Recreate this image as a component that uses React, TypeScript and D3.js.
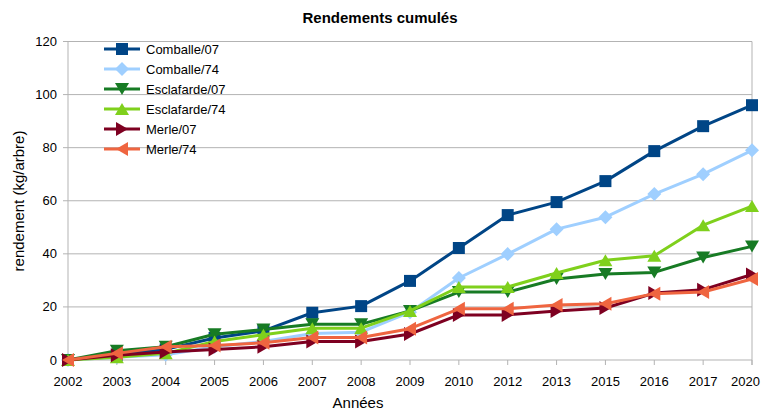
import React from 'react';
import * as d3 from 'd3';

const years = ['2002', '2003', '2004', '2005', '2006', '2007', '2008', '2009', '2010', '2012', '2013', '2015', '2016', '2017', '2020'];

const comballe07 = [0, 2, 4, 8.3, 11, 17.8, 20.3, 29.8, 42.2, 54.6, 59.5, 67.4, 78.7, 88.1, 96];
const comballe74 = [0, 1, 2, 5, 7, 10, 10.5, 18, 30.9, 39.9, 49.3, 53.8, 62.5, 70, 79];
const esclafarde07 = [0, 3.5, 5, 9.7, 11.5, 13.5, 13.5, 18.5, 25.6, 25.6, 30.5, 32.4, 33, 38.6, 42.8];
const esclafarde74 = [0, 1, 2.5, 7, 9.5, 12, 12, 18.5, 27.5, 27.5, 32.8, 37.6, 39.3, 50.8, 58];
const merle07 = [0, 1.8, 3, 4, 5, 7, 7, 9.8, 17, 17, 18.5, 19.6, 25.2, 26.5, 32.2];
const merle74 = [0, 2.5, 5, 5.5, 6.5, 8.5, 8.5, 11.8, 19.3, 19.3, 20.7, 21.2, 25, 25.6, 30.5];

const yTicks = [0, 20, 40, 60, 80, 100, 120];

const series = [
  { name: 'Comballe/07', values: comballe07, color: '#004586', marker: 'square' },
  { name: 'Comballe/74', values: comballe74, color: '#9fcfff', marker: 'diamond' },
  { name: 'Esclafarde/07', values: esclafarde07, color: '#177b24', marker: 'down' },
  { name: 'Esclafarde/74', values: esclafarde74, color: '#7fd01c', marker: 'up' },
  { name: 'Merle/07', values: merle07, color: '#7e0021', marker: 'right' },
  { name: 'Merle/74', values: merle74, color: '#ef6540', marker: 'left' },
];

const W = 761;
const H = 410;
const left = 68;
const right = 752;
const top = 41.5;
const bottom = 360;

function Marker({ kind, x, y, color }: { kind: string; x: number; y: number; color: string }) {
  const s = 6;
  let d = '';
  if (kind === 'square') d = `M${x - s},${y - s}h${2 * s}v${2 * s}h${-2 * s}Z`;
  else if (kind === 'diamond') d = `M${x},${y - s - 1}L${x + s + 1},${y}L${x},${y + s + 1}L${x - s - 1},${y}Z`;
  else if (kind === 'down') d = `M${x - s - 1},${y - s}L${x + s + 1},${y - s}L${x},${y + s}Z`;
  else if (kind === 'up') d = `M${x - s - 1},${y + s}L${x + s + 1},${y + s}L${x},${y - s}Z`;
  else if (kind === 'right') d = `M${x - s},${y - s - 1}L${x - s},${y + s + 1}L${x + s},${y}Z`;
  else d = `M${x + s},${y - s - 1}L${x + s},${y + s + 1}L${x - s},${y}Z`;
  return <path d={d} fill={color} />;
}

export default function App() {
  const x = d3.scalePoint<string>().domain(years).range([left, right]).padding(0);
  const y = d3.scaleLinear().domain([0, 120]).range([bottom, top]);
  const line = d3.line<number>().x((_, i) => x(years[i])!).y(d => y(d));

  return (
    <svg width={W} height={H} style={{ position: 'absolute', left: 0, top: 0, fontFamily: 'Liberation Sans, Arial, sans-serif' }}>
      <rect width={W} height={H} fill="#fff" />
      <text x={380} y={23} textAnchor="middle" fontSize={15} fontWeight="bold">Rendements cumulés</text>

      {yTicks.map(t => (
        <g key={t}>
          <line x1={left - 5} x2={right} y1={y(t)} y2={y(t)} stroke="#b3b3b3" strokeWidth={1} />
          <text x={57} y={y(t) + 4.5} textAnchor="end" fontSize={13}>{t}</text>
        </g>
      ))}
      <line x1={left} x2={left} y1={top} y2={bottom + 5} stroke="#b3b3b3" strokeWidth={1} />
      <line x1={right} x2={right} y1={top} y2={bottom + 5} stroke="#b3b3b3" strokeWidth={1} />
      {years.map((yr, i) => {
        const last = i === years.length - 1;
        return (
          <g key={yr}>
            <line x1={x(yr)} x2={x(yr)} y1={bottom} y2={bottom + 5} stroke="#b3b3b3" strokeWidth={1} />
            <text x={last ? W - 1 : x(yr)} y={386} textAnchor={last ? 'end' : 'middle'} fontSize={13}>{yr}</text>
          </g>
        );
      })}

      <text x={358} y={408} textAnchor="middle" fontSize={15}>Années</text>
      <text transform="translate(24,201) rotate(-90)" textAnchor="middle" fontSize={15}>rendement (kg/arbre)</text>

      {series.map(s => (
        <g key={s.name}>
          <path d={line(s.values) || ''} fill="none" stroke={s.color} strokeWidth={3} strokeLinejoin="round" />
          {s.values.map((v, i) => (
            <Marker key={i} kind={s.marker} x={x(years[i])!} y={y(v)} color={s.color} />
          ))}
        </g>
      ))}

      {series.map((s, i) => {
        const ly = 49 + i * 20;
        return (
          <g key={s.name}>
            <line x1={104} x2={140} y1={ly} y2={ly} stroke={s.color} strokeWidth={3} />
            <Marker kind={s.marker} x={122} y={ly} color={s.color} />
            <text x={146} y={ly + 5} fontSize={13}>{s.name}</text>
          </g>
        );
      })}
    </svg>
  );
}
